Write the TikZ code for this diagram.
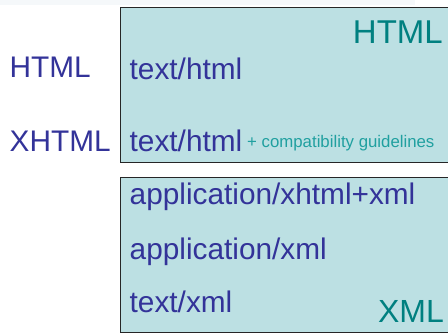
\documentclass[tikz,border=0pt]{standalone}
\usepackage{fontspec}
\setmainfont{Liberation Sans}
\definecolor{boxfill}{RGB}{188,224,227}
\definecolor{txtblue}{RGB}{51,51,153}
\definecolor{bigteal}{RGB}{0,128,128}
\definecolor{smteal}{RGB}{32,160,160}
\definecolor{topstrip}{RGB}{245,248,250}
\tikzset{
  panel/.style={draw=black!85, line width=1pt, fill=boxfill},
  lbl/.style={inner sep=0pt, anchor=base west, text=txtblue, font=\fontsize{29.8}{34}\selectfont},
  bigl/.style={inner sep=0pt, anchor=base east, text=bigteal},
  small/.style={inner sep=0pt, anchor=base west, text=smteal, font=\fontsize{16.8}{19}\selectfont}
}
\begin{document}
\begin{tikzpicture}[x=1pt,y=1pt]
\useasboundingbox (0,0) rectangle (448,-333);
\fill[topstrip] (0,0) rectangle (415,-5);
\path[panel] (120,-7) rectangle (470,-162);
\path[panel] (120,-177) rectangle (470,-332);
\node[lbl] (lhtml) at (9.5,-77) {HTML};
\node[lbl] (lxhtml) at (9.5,-151) {XHTML};
\node[lbl] (th1) at (129.5,-79.5) {text/html};
\node[lbl] (th2) at (129.5,-151) {text/html};
\node[small] (compat) at (247,-147) {+ compatibility guidelines};
\node[bigl, font=\fontsize{33}{38}\selectfont] (thtml) at (443,-43) {HTML};
\node[lbl] (axhtml) at (129.5,-204) {application/xhtml+xml};
\node[lbl] (axml) at (129.5,-259) {application/xml};
\node[lbl] (txml) at (129.5,-312) {text/xml};
\node[bigl, font=\fontsize{32}{37}\selectfont] (bxml) at (444,-322.5) {XML};
\end{tikzpicture}
\end{document}
